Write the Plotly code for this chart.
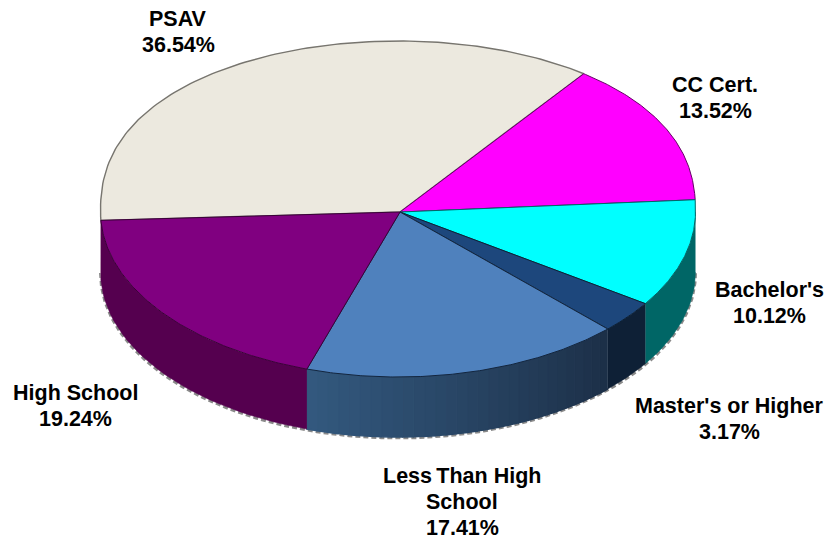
import numpy as np
import plotly.graph_objects as go

categories = ["PSAV", "CC Cert.", "Bachelor's", "Master's or Higher", "Less Than High School", "High School"]
values = [36.54, 13.52, 10.12, 3.17, 17.41, 19.24]
top_colors = ["#ECE9DF", "#FF00FF", "#00FFFF", "#1D477C", "#4F81BD", "#800080"]
edge_colors = ["#77756f", "#660066", "#006666", "#0c2138", "#13263f", "#3a0038"]
side_left = ["#ECE9DF", "#FF00FF", "#006666", "#0e2036", "#33597f", "#55004f"]
side_right = ["#ECE9DF", "#FF00FF", "#006666", "#0e2036", "#1c2f47", "#55004f"]
label_lines = [["PSAV"], ["CC Cert."], ["Bachelor's"], ["Master's or Higher"], ["Less\u2009Than High", "School"], ["High School"]]
label_x = [178, 715, 769, 729, 462, 75]
label_y = [19, 85, 290, 406, 476, 393]

CX, CY, RX, RY_TOP, RY_BOT, DEPTH = 398, 212, 297.5, 171, 165, 60
APEX_X = 400
START = 182.9
LINE_H = 26


def project(t):
    c, s = np.cos(np.radians(t)), np.sin(np.radians(t))
    x = CX + RX * c
    y = np.where(s > 0, CY - RY_TOP * np.abs(s) ** 0.86, CY + RY_BOT * np.abs(s))
    return x, y


def hex_mix(a, b, f):
    ca = [int(a[i:i + 2], 16) for i in (1, 3, 5)]
    cb = [int(b[i:i + 2], 16) for i in (1, 3, 5)]
    return "#%02x%02x%02x" % tuple(round(p + (q - p) * f) for p, q in zip(ca, cb))


def poly(x, y, fill, line=None, width=0.0):
    return go.Scatter(x=list(x), y=list(y), mode="lines", fill="toself", fillcolor=fill,
                      line=dict(color=line or fill, width=width), hoverinfo="skip", showlegend=False)


fig = go.Figure()
total = sum(values)
bounds = START - np.cumsum([0] + values) * 360 / total

# dashed grey fringe under the front wall
ts = np.linspace(-180, 0, 200)
fx, fy = project(ts)
fig.add_trace(go.Scatter(x=fx, y=fy + DEPTH + 1, mode="lines", hoverinfo="skip", showlegend=False,
                         line=dict(color="#8a8a8a", width=3, dash="5px 3px")))

# walls: the wide blue one is cut in strips for its shading
for i in range(len(values)):
    a0, a1 = bounds[i], bounds[i + 1]
    lo, hi = max(a1, -180), min(a0, 0)
    if a0 > 180:
        lo, hi = a1 - 360, a0 - 360
    if lo >= hi:
        continue
    n = 30 if side_left[i] != side_right[i] else 1
    edges = np.linspace(hi, lo, n + 1)
    for k in range(n):
        t = np.linspace(edges[k], edges[k + 1], 30)
        x, y = project(t)
        px = np.r_[x, x[::-1]]
        py = np.r_[y, (y + DEPTH)[::-1]]
        col = hex_mix(side_right[i], side_left[i], (k + .5) / n)
        fig.add_trace(poly(px, py, col, col, 1.5 if n > 1 else 0.5))

# top faces
for i in range(len(values)):
    t = np.linspace(bounds[i], bounds[i + 1], 120)
    x, y = project(t)
    fig.add_trace(poly(np.r_[APEX_X, x, APEX_X], np.r_[CY, y, CY], top_colors[i], edge_colors[i], 1.4 if i == 0 else 1))

# labels
for name, lines, v, lx, ly in zip(categories, label_lines, values, label_x, label_y):
    texts = lines + ["%.2f%%" % v]
    for j, txt in enumerate(texts):
        fig.add_annotation(x=lx, y=ly + j * LINE_H, text=txt, showarrow=False, xanchor="center", yanchor="middle",
                           font=dict(family="Liberation Sans", size=21.5, color="#000000", weight="bold"))

fig.update_layout(width=826, height=539, margin=dict(l=0, r=0, t=0, b=0), paper_bgcolor="white", plot_bgcolor="white",
                  xaxis=dict(range=[0, 826], visible=False, fixedrange=True),
                  yaxis=dict(range=[539, 0], visible=False, fixedrange=True), showlegend=False)
fig.write_html("out.html", config=dict(displayModeBar=False),
               post_script="document.body.style.margin='0';document.body.style.overflow='hidden';")
